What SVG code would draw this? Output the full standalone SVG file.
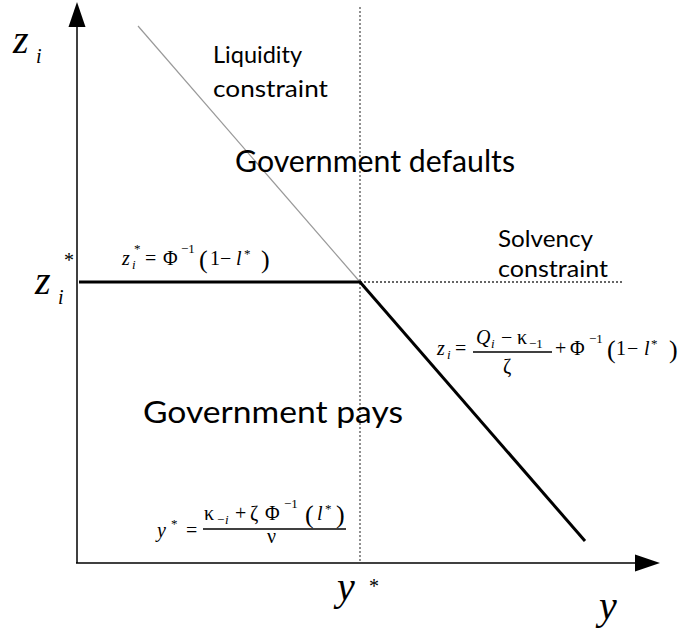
<svg xmlns="http://www.w3.org/2000/svg" width="683" height="633" viewBox="0 0 683 633">
<style>
.lab{font-family:"Lato","Open Sans",sans-serif;fill:#000}
.m{font-family:"Liberation Serif","Times New Roman",serif;fill:#000;font-size:20px}
.it{font-style:italic}
.big{font-size:40px}
.s{font-size:13px}
.p{font-size:26px}
</style>
<rect width="683" height="633" fill="#fff"/>
<g id="axes">
<line x1="77" y1="26" x2="77" y2="563" stroke="#000" stroke-width="1.5"/>
<polygon points="77,2 68.5,27 85.5,27" fill="#000"/>
<line x1="76" y1="563" x2="636" y2="563" stroke="#000" stroke-width="1.5"/>
<polygon points="660,563 635,554.5 635,571.5" fill="#000"/>
</g>
<g id="connectors">
<line x1="360" y1="7" x2="360" y2="562" stroke="#555" stroke-width="1.3" stroke-dasharray="2,2"/>
<line x1="360" y1="282" x2="622" y2="282" stroke="#333" stroke-width="1.3" stroke-dasharray="2,2"/>
<line x1="138" y1="26" x2="360" y2="282" stroke="#999" stroke-width="1.2"/>
<line x1="79" y1="282" x2="361" y2="282" stroke="#000" stroke-width="3"/>
<line x1="360" y1="282" x2="585" y2="541" stroke="#000" stroke-width="3"/>
</g>
<g id="axis-labels">
<text class="m it big" x="13" y="53">z</text>
<text class="m it" x="36" y="63" font-size="30">i</text>
<text class="m it big" x="35" y="294">z</text>
<text class="m it" x="58" y="304" font-size="30">i</text>
<text class="m" x="64" y="267" font-size="34">*</text>
<text class="m it big" x="337" y="600">y</text>
<text class="m" x="369" y="593" font-size="34">*</text>
<text class="m it big" x="599" y="619">y</text>
</g>
<g id="liquidity">
<text class="lab" x="213" y="63" font-size="24" textLength="89" lengthAdjust="spacingAndGlyphs">Liquidity</text>
<text class="lab" x="213" y="97" font-size="24" textLength="115" lengthAdjust="spacingAndGlyphs">constraint</text>
</g>
<g id="solvency">
<text class="lab" x="498" y="247" font-size="24" textLength="95" lengthAdjust="spacingAndGlyphs">Solvency</text>
<text class="lab" x="498" y="277" font-size="24" textLength="110" lengthAdjust="spacingAndGlyphs">constraint</text>
</g>
<g id="defaults">
<text class="lab" x="235" y="172" font-size="31" textLength="280" lengthAdjust="spacingAndGlyphs">Government defaults</text>
</g>
<g id="pays">
<text class="lab" x="143" y="423" font-size="31" textLength="260" lengthAdjust="spacingAndGlyphs">Government pays</text>
</g>
<g id="eq-zstar">
<text class="m it" x="122" y="265">z</text>
<text class="m it s" x="132" y="269">i</text>
<text class="m s" x="134" y="253">*</text>
<text class="m" x="145" y="265">=</text>
<text class="m" x="163" y="265">Φ</text>
<text class="m s" x="181" y="253">−1</text>
<text class="m p" x="199" y="268">(</text>
<text class="m" x="210" y="265">1</text>
<text class="m" x="220" y="265">−</text>
<text class="m it" x="236" y="265">l</text>
<text class="m s" x="244" y="258">*</text>
<text class="m p" x="261" y="268">)</text>
</g>
<g id="eq-zi">
<text class="m it" x="437" y="355">z</text>
<text class="m it s" x="447" y="359">i</text>
<text class="m" x="455" y="355">=</text>
<text class="m it" x="476" y="344">Q</text>
<text class="m it s" x="491" y="348">i</text>
<text class="m" x="501" y="344">−</text>
<text class="m" x="517" y="344">κ</text>
<text class="m s" x="529" y="348">−1</text>
<line x1="473" y1="352" x2="552" y2="352" stroke="#000" stroke-width="1.3"/>
<text class="m" x="503" y="373">ζ</text>
<text class="m" x="555" y="355">+</text>
<text class="m" x="570" y="355">Φ</text>
<text class="m s" x="589" y="343">−1</text>
<text class="m p" x="607" y="358">(</text>
<text class="m" x="616" y="355">1</text>
<text class="m" x="627" y="355">−</text>
<text class="m it" x="644" y="355">l</text>
<text class="m s" x="651" y="348">*</text>
<text class="m p" x="669" y="358">)</text>
</g>
<g id="eq-ystar">
<text class="m it" x="157" y="537">y</text>
<text class="m s" x="171" y="528">*</text>
<text class="m" x="186" y="537">=</text>
<text class="m" x="204" y="520">κ</text>
<text class="m s" x="217" y="524">−</text>
<text class="m it s" x="225" y="524">i</text>
<text class="m" x="235" y="520">+</text>
<text class="m" x="250" y="520">ζ</text>
<text class="m" x="265" y="520">Φ</text>
<text class="m s" x="284" y="508">−1</text>
<text class="m p" x="305" y="523">(</text>
<text class="m it" x="317" y="520">l</text>
<text class="m s" x="325" y="513">*</text>
<text class="m p" x="336" y="523">)</text>
<line x1="203" y1="529" x2="346" y2="529" stroke="#000" stroke-width="1.3"/>
<text class="m" x="267" y="543">ν</text>
</g>
</svg>
